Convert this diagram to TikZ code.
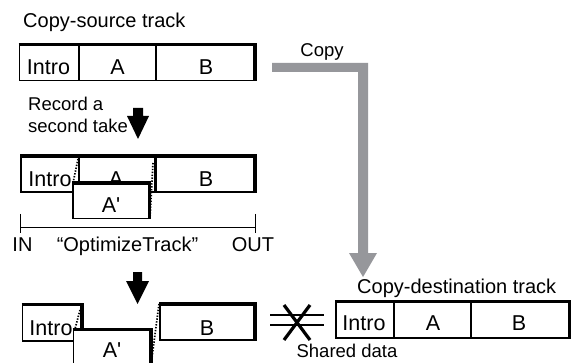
\documentclass[tikz,border=0pt]{standalone}
\usepackage{fontspec}
\setmainfont{Liberation Sans}[Ligatures=TeXOff]
\definecolor{arrowgray}{RGB}{150,151,155}
\tikzset{
  txt/.style={font=\fontsize{20}{22}\selectfont, inner sep=0pt},
  cell/.style={font=\fontsize{21.5}{22}\selectfont, inner sep=0pt, anchor=base},
  small/.style={font=\fontsize{18.5}{22}\selectfont, inner sep=0pt},
  thinedge/.style={line width=1.8pt},
  thickedge/.style={line width=3.8pt},
  dots/.style={line width=1.7pt, dash pattern=on 1.4pt off 1.5pt},
  blackarrow/.style={fill=black, draw=none},
}
\newcommand\trackbox[4]{%
  \fill[white] (#1,#2) rectangle (#3,#4);
  \draw[thinedge] (#1,#2) rectangle (#3,#4);
  \draw[thickedge] (#1-0.9,#2) -- (#3,#2) -- (#3,#4+0.9);
}
\begin{document}
\begin{tikzpicture}[x=1pt,y=-1pt]
\clip (0,0) rectangle (572,363);
\fill[white] (0,0) rectangle (572,363);

% ---------- title
\node[txt, anchor=base west] (title) at (23,28) {Copy-source track};

% ---------- top track
\trackbox{19.5}{44.5}{255}{80.5}
\draw[thinedge] (79,44.5) -- (79,80.5);
\draw[thinedge] (156,44.5) -- (156,80.5);
\node[cell] (t1) at (48.5,75) {Intro};
\node[cell] (t2) at (117.5,75) {A};
\node[cell] (t3) at (206,75) {B};

% ---------- record a second take
\node[small, anchor=base west] (rec1) at (28,111) {Record a};
\node[small, anchor=base west] (rec2) at (28,133) {second take};
\fill[blackarrow] (133,108) -- (143,108) -- (143,116) -- (149,116) -- (138,139) -- (127,116) -- (133,116) -- cycle;
\coordinate (arr1) at (138,139);

% ---------- second track
\trackbox{21}{156}{255}{192}
\draw[thinedge] (79,156) -- (79,183);
\draw[line width=3pt] (155,156) -- (155,192);
\node[cell] (s1) at (50,187) {Intro};
\node[cell] (s2) at (116,187) {A};
\node[cell] (s3) at (206,187) {B};
\trackbox{73}{183}{149.5}{218.5}
\node[cell] (s4) at (111,212) {A'};
\draw[dots] (78,159) -- (73,183);
\draw[dots] (153,163) -- (150,218);

% ---------- IN / OUT range
\coordinate (inpt) at (20,227);
\coordinate (outpt) at (255,227);
\draw[line width=1pt] (inpt) -- (outpt);
\draw[line width=1pt] (20,214) -- (20,233);
\draw[line width=1pt] (255,214) -- (255,233);
\node[txt, anchor=base] (inlbl) at (22.5,251) {IN};
\node[txt, anchor=base] (opt) at (127.5,251) {“OptimizeTrack”};
\node[txt, anchor=base] (outlbl) at (253,251) {OUT};

% ---------- optimize arrow
\fill[blackarrow] (133,272) -- (142,272) -- (142,281) -- (149,281) -- (137.5,304) -- (126,281) -- (133,281) -- cycle;

% ---------- bottom track
\trackbox{22.5}{304.5}{82}{341}
\node[cell] (b1) at (51,335) {Intro};
\trackbox{73.5}{329.5}{151}{380}
\node[cell] (b2) at (112,357.5) {A'};
\trackbox{160}{304}{255}{340}
\node[cell] (b3) at (207,335) {B};
\draw[dots] (80,310) -- (75,329);
\draw[dots] (159,304) -- (151,365);

% ---------- copy arrow
\node[small, anchor=base] (copylbl) at (322,57) {Copy};
\fill[arrowgray] (272,63) -- (368,63) -- (368,253) -- (377,253) -- (363,277) -- (349,253) -- (358,253) -- (358,72) -- (272,72) -- cycle;

% ---------- destination track
\node[txt, anchor=base west] (dtitle) at (357,293) {Copy-destination track};
\trackbox{336}{301.5}{569.5}{338}
\draw[thinedge] (394,301.5) -- (394,338);
\draw[thinedge] (471,301.5) -- (471,338);
\node[cell] (d1) at (364,330) {Intro};
\node[cell] (d2) at (433,330) {A};
\node[cell] (d3) at (519,330) {B};

% ---------- not equal / shared data
\draw[line width=1.8pt] (270,315) -- (324,315);
\draw[line width=1.8pt] (270,325) -- (324,325);
\draw[line width=3.2pt] (284,305) -- (310,340);
\draw[line width=3.2pt] (284,340) -- (310,305);
\node[small, anchor=base] (shared) at (347,357) {Shared data};
\end{tikzpicture}
\end{document}
